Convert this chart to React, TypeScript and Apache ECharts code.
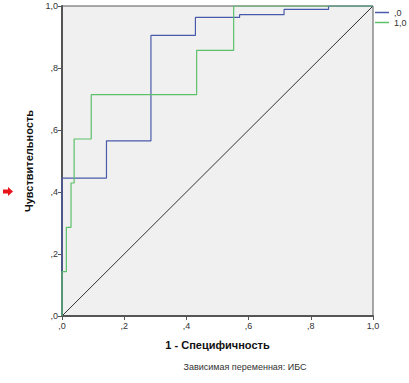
import React, { useEffect, useRef } from "react";
import * as echarts from "echarts";

const series0Name = ",0";
const series0X = [0, 0, 0.143, 0.143, 0.286, 0.286, 0.429, 0.429, 0.571, 0.571, 0.714, 0.714, 0.857, 0.857, 1];
const series0Y = [0, 0.445, 0.445, 0.565, 0.565, 0.905, 0.905, 0.963, 0.963, 0.972, 0.972, 0.989, 0.989, 1, 1];

const series1Name = "1,0";
const series1X = [0, 0, 0.014, 0.014, 0.029, 0.029, 0.039, 0.039, 0.094, 0.094, 0.433, 0.433, 0.552, 0.552, 1];
const series1Y = [0, 0.143, 0.143, 0.286, 0.286, 0.429, 0.429, 0.571, 0.571, 0.714, 0.714, 0.857, 0.857, 1, 1];

const diagX = [0, 1];
const diagY = [0, 1];

const tickFmt = (v: number) => (v >= 1 ? "1,0" : "," + Math.round(v * 10));

const zip = (xs: number[], ys: number[]) => xs.map((x, i) => [x, ys[i]]);

export default function App() {
  const ref = useRef<HTMLDivElement>(null);
  useEffect(() => {
    if (!ref.current) return;
    const chart = echarts.init(ref.current, undefined, { renderer: "svg" });
    const font = "Arial, 'Liberation Sans', sans-serif";
    chart.setOption({
      animation: false,
      textStyle: { fontFamily: font },
      grid: {
        left: 62,
        right: 36,
        top: 6,
        bottom: 67,
        show: true,
        backgroundColor: "#f0f0f0",
        borderColor: "#555555",
        borderWidth: 1,
      },
      legend: {
        orient: "vertical",
        left: 370,
        top: 3,
        itemGap: 1,
        itemWidth: 14,
        itemHeight: 1.5,
        icon: "rect",
        data: [series0Name, series1Name],
        textStyle: { fontSize: 9, color: "#333" },
      },
      xAxis: {
        type: "value",
        min: 0,
        max: 1,
        interval: 0.2,
        name: "1 - Специфичность",
        nameLocation: "middle",
        nameGap: 23,
        nameTextStyle: { fontSize: 11, fontWeight: "bold", color: "#111" },
        axisLine: { show: true, lineStyle: { color: "#555", width: 2 } },
        axisTick: { show: true, length: 4, lineStyle: { color: "#555" } },
        axisLabel: { formatter: tickFmt, fontSize: 9, color: "#333", margin: 5 },
        splitLine: { show: false },
      },
      yAxis: {
        type: "value",
        min: 0,
        max: 1,
        interval: 0.2,
        name: "Чувствительность",
        nameLocation: "middle",
        nameGap: 23,
        nameTextStyle: { fontSize: 11, fontWeight: "bold", color: "#111" },
        axisLine: { show: true, lineStyle: { color: "#555", width: 2 } },
        axisTick: { show: true, length: 4, lineStyle: { color: "#555" } },
        axisLabel: { formatter: tickFmt, fontSize: 9, color: "#333", margin: 4 },
        splitLine: { show: false },
      },
      series: [
        {
          name: series0Name,
          type: "line",
          data: zip(series0X, series0Y),
          symbol: "none",
          lineStyle: { color: "#4a5aaa", width: 1.2 },
          itemStyle: { color: "#4a5aaa" },
          z: 3,
        },
        {
          name: series1Name,
          type: "line",
          data: zip(series1X, series1Y),
          symbol: "none",
          lineStyle: { color: "#5cc06a", width: 1.2 },
          itemStyle: { color: "#5cc06a" },
          z: 3,
        },
        {
          name: "diag",
          type: "line",
          data: zip(diagX, diagY),
          symbol: "none",
          lineStyle: { color: "#333333", width: 1 },
          z: 2,
        },
      ],
      graphic: [
        {
          type: "polygon",
          shape: {
            points: [
              [3, 189.5],
              [8, 189.5],
              [8, 187],
              [13, 191.5],
              [8, 196],
              [8, 193.5],
              [3, 193.5],
            ],
          },
          style: { fill: "#e8141b" },
        },
        {
          type: "text",
          x: 245,
          y: 367,
          style: {
            text: "Зависимая переменная: ИБС",
            fontSize: 9,
            fill: "#333",
            fontFamily: font,
            align: "center",
            verticalAlign: "middle",
          },
        },
      ],
    });
    return () => chart.dispose();
  }, []);
  return (
    <div
      ref={ref}
      style={{ width: 409, height: 383, position: "absolute", left: 0, top: 0 }}
    />
  );
}
